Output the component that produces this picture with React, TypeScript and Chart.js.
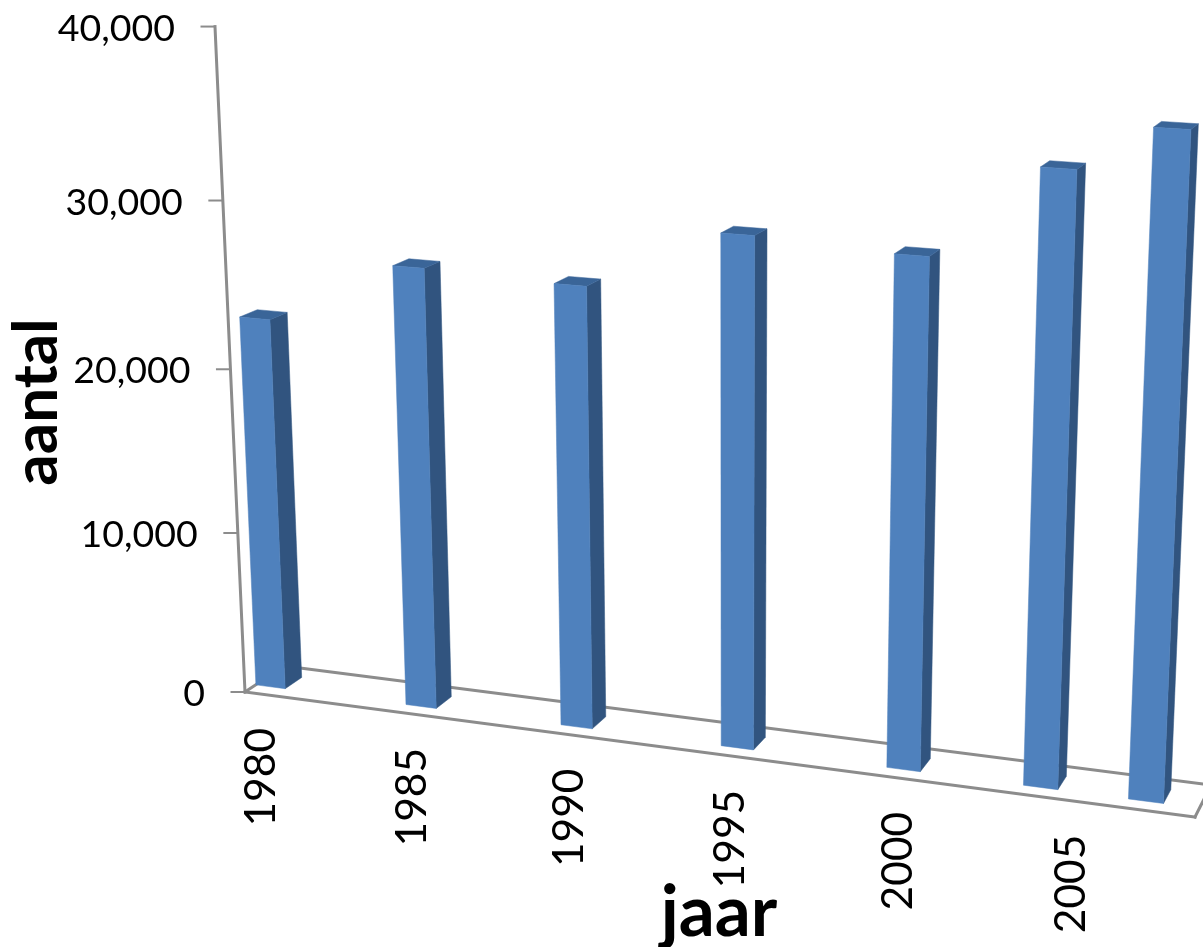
import React, { useEffect, useRef } from "react";
import { Chart, registerables, BarController, BarElement } from "chart.js";

// Survey years and counts per year
const years = [1980, 1985, 1990, 1995, 2000, 2004, 2007];
const counts = [22850, 26700, 26450, 30100, 29700, 35000, 37500];
const tickYears = [1980, 1985, 1990, 1995, 2000, 2005];
const xTitle = "jaar";
const yTitle = "aantal";

const WIDTH = 1203;
const HEIGHT = 947;

// Perspective camera: box origin, the far end of each edge and each edge's vanishing point
type Pt = [number, number];
const ORIGIN: Pt = [245, 692];
const END_X: Pt = [1195, 817];
const END_Y: Pt = [215, 27];
const END_Z: Pt = [284, 666];
const VANISH_X: Pt = [-9024, -528];
const VANISH_Y: Pt = [730, 11450];
const VANISH_Z: Pt = [1764, -320];

const weight = (end: Pt, vanish: Pt) => (end[0] - ORIGIN[0]) / (vanish[0] - end[0]);
const KX = weight(END_X, VANISH_X);
const KY = weight(END_Y, VANISH_Y);
const KZ = weight(END_Z, VANISH_Z);

// u, v, w run from 0 to 1 along the year, value and depth edges of the box
function project(u: number, v: number, w: number): Pt {
  const h = 1 + u * KX + v * KY + w * KZ;
  const px = ORIGIN[0] + u * KX * VANISH_X[0] + v * KY * VANISH_Y[0] + w * KZ * VANISH_Z[0];
  const py = ORIGIN[1] + u * KX * VANISH_X[1] + v * KY * VANISH_Y[1] + w * KZ * VANISH_Z[1];
  return [px / h, py / h];
}

const FRONT = "#4f81bd";
const SIDE = "#31547f";
const TOP = "#3a6598";
const AXIS = "#8c8c8c";
const DEPTH_FRONT = 0.27;
const DEPTH_BACK = 0.7;

function fillQuad(ctx: CanvasRenderingContext2D, pts: Pt[], color: string) {
  ctx.beginPath();
  pts.forEach((p, i) => (i ? ctx.lineTo(p[0], p[1]) : ctx.moveTo(p[0], p[1])));
  ctx.closePath();
  ctx.fillStyle = color;
  ctx.fill();
  ctx.strokeStyle = color;
  ctx.lineWidth = 0.5;
  ctx.stroke();
}

function strokeLine(ctx: CanvasRenderingContext2D, a: Pt, b: Pt) {
  ctx.beginPath();
  ctx.moveTo(a[0], a[1]);
  ctx.lineTo(b[0], b[1]);
  ctx.stroke();
}

// Bar element that turns its flat rectangle into a perspective column
class ColumnElement extends BarElement {
  static id = "column3d";
  draw(ctx: CanvasRenderingContext2D) {
    const { x, y, base, width } = (this as any).getProps(["x", "y", "base", "width"]);
    const u0 = (x - width / 2) / WIDTH;
    const u1 = (x + width / 2) / WIDTH;
    const v0 = (HEIGHT - base) / HEIGHT;
    const v1 = (HEIGHT - y) / HEIGHT;
    const w0 = DEPTH_FRONT;
    const w1 = DEPTH_BACK;
    ctx.save();
    fillQuad(ctx, [project(u1, v0, w0), project(u1, v0, w1), project(u1, v1, w1), project(u1, v1, w0)], SIDE);
    fillQuad(ctx, [project(u0, v1, w0), project(u1, v1, w0), project(u1, v1, w1), project(u0, v1, w1)], TOP);
    fillQuad(ctx, [project(u0, v0, w0), project(u1, v0, w0), project(u1, v1, w0), project(u0, v1, w0)], FRONT);
    ctx.restore();
  }
}

class ColumnController extends BarController {
  static id = "column3d";
  static defaults = { ...BarController.defaults, dataElementType: "column3d" };
  static overrides = BarController.overrides;
}

Chart.register(...registerables, ColumnElement as any, ColumnController as any);

const boxPlugin = {
  id: "perspectiveBox",
  beforeDatasetsDraw(chart: any) {
    const ctx: CanvasRenderingContext2D = chart.ctx;
    const yScale = chart.scales.y;
    ctx.save();
    ctx.strokeStyle = AXIS;
    ctx.lineWidth = 3;
    ctx.lineCap = "square";
    strokeLine(ctx, project(0, 0, 0), project(1, 0, 0));
    strokeLine(ctx, project(1, 0, 0), project(1, 0, 1));
    strokeLine(ctx, project(1, 0, 1), project(0, 0, 1));
    strokeLine(ctx, project(0, 0, 1), project(0, 0, 0));
    strokeLine(ctx, project(0, 0, 0), project(0, 1, 0));
    ctx.lineCap = "butt";
    ctx.lineWidth = 2;
    yScale.ticks.forEach((tick: any) => {
      const v = (HEIGHT - yScale.getPixelForValue(tick.value)) / HEIGHT;
      const p = project(0, v, 0);
      strokeLine(ctx, p, [p[0] - 14.5, p[1]]);
    });
    ctx.restore();
  },
  afterDatasetsDraw(chart: any) {
    const ctx: CanvasRenderingContext2D = chart.ctx;
    const { x: xScale, y: yScale } = chart.scales;
    ctx.save();
    ctx.fillStyle = "#000000";
    ctx.font = "37.5px Lato";
    ctx.textAlign = "right";
    ctx.textBaseline = "middle";
    yScale.ticks.forEach((tick: any) => {
      const v = (HEIGHT - yScale.getPixelForValue(tick.value)) / HEIGHT;
      const p = project(0, v, 0);
      ctx.fillText(tick.label, p[0] - 40, p[1] + 2);
    });
    ctx.font = "42.5px Lato";
    xScale.ticks.forEach((tick: any) => {
      const p = project(xScale.getPixelForValue(tick.value) / WIDTH, 0, 0);
      ctx.save();
      ctx.translate(p[0] + 1, p[1] + 34);
      ctx.rotate(-Math.PI / 2);
      ctx.fillText(tick.label, 0, 0);
      ctx.restore();
    });
    ctx.textAlign = "center";
    ctx.font = "bold 71px Lato";
    ctx.fillText(xScale.options.title.text, 719, 913);
    ctx.save();
    ctx.translate(37, 402);
    ctx.rotate(-Math.PI / 2);
    ctx.font = "bold 62px Lato";
    ctx.fillText(yScale.options.title.text, 0, 0);
    ctx.restore();
    ctx.restore();
  },
};

export default function App() {
  const ref = useRef<HTMLCanvasElement>(null);
  useEffect(() => {
    const chart = new Chart(ref.current!, {
      type: "column3d" as any,
      data: {
        labels: years,
        datasets: [
          {
            data: years.map((year, i) => ({ x: year, y: counts[i] })),
            barThickness: 41,
            backgroundColor: FRONT,
          } as any,
        ],
      },
      options: {
        responsive: false,
        animation: false,
        layout: { padding: 0 },
        plugins: { legend: { display: false }, tooltip: { enabled: false } },
        scales: {
          x: {
            type: "linear",
            display: false,
            offset: false,
            bounds: "data",
            min: 1979.5,
            max: 2008.5,
            title: { text: xTitle },
            ticks: { stepSize: 5, callback: (v: any) => String(v) },
            afterBuildTicks: (scale: any) => {
              scale.ticks = tickYears.map((value) => ({ value }));
            },
          },
          y: {
            type: "linear",
            display: false,
            min: 0,
            max: 40000,
            title: { text: yTitle },
            ticks: {
              stepSize: 10000,
              callback: (v: any) => Number(v).toLocaleString("en-US"),
            },
          },
        },
      } as any,
      plugins: [boxPlugin],
    });
    return () => chart.destroy();
  }, []);
  return (
    <div style={{ position: "fixed", left: 0, top: 0 }}>
      <canvas ref={ref} width={WIDTH} height={HEIGHT} style={{ display: "block" }} />
    </div>
  );
}
